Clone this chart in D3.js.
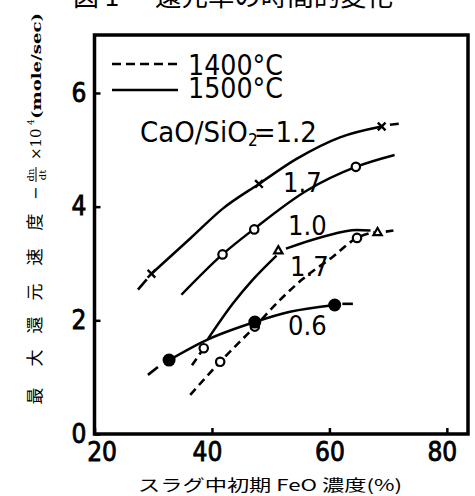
<!DOCTYPE html>
<html>
<head>
<meta charset="utf-8">
<script src="https://cdn.jsdelivr.net/npm/d3@7"></script>
<style>
  body { margin: 0; background: #fff; }
  svg { display: block; }
  text { fill: #000; }
  .num { font-family: "DejaVu Sans Condensed", "DejaVu Sans", sans-serif; font-stretch: condensed; }
  .jp { font-family: "Noto Sans CJK JP", sans-serif; }
</style>
</head>
<body>
<div id="chart"></div>
<script>
// tick labels
var xTicks = [20, 40, 60, 80];
var yTicks = [0, 2, 4, 6];

var temps = ["1400°C", "1500°C"];
var ratioLabels = ["1.2", "1.7", "1.0", "1.7", "0.6"];

// markers  [FeO %, rate]
var pts12 = [[29.7, 2.82], [48.0, 4.40], [68.9, 5.41]];           // x, 1500
var pts17 = [[41.8, 3.16], [47.2, 3.60], [64.5, 4.70]];           // o, 1500
var pts10 = [[51.3, 3.22], [68.2, 3.54]];                         // triangle
var pts06 = [[32.7, 1.30], [47.3, 1.97], [60.9, 2.27]];           // filled, 1500
var pts17b = [[41.4, 1.27], [47.3, 1.89], [64.7, 3.45], [38.6, 1.51]]; // o, 1400

// hand drawn curves
var curve12 = [[29.7, 2.82], [36.3, 3.44], [41.9, 3.97], [48.0, 4.40], [54.4, 4.84], [61.8, 5.22], [68.9, 5.41]];
var curve17 = [[34.8, 2.45], [41.8, 3.16], [47.2, 3.61], [56.1, 4.28], [64.5, 4.70], [71.1, 4.91]];
var curve10a = [[39.3, 1.67], [43.6, 2.30], [47.0, 2.72], [51.0, 3.14]];
var curve10b = [[52.6, 3.26], [58.9, 3.47], [64.7, 3.59], [67.0, 3.58]];
var curve06 = [[32.7, 1.30], [38.8, 1.64], [47.3, 1.97], [53.3, 2.15], [60.9, 2.27]];
var curve17b = [[36.3, 0.69], [41.4, 1.27], [47.3, 1.89], [51.5, 2.35], [55.5, 2.73], [60.6, 3.12], [64.7, 3.45], [67.6, 3.55]];
var curveShort = [[36.6, 1.21], [38.6, 1.51]];

// little dash tails beyond the end markers
var tails = [
  [[27.4, 2.54], [28.9, 2.72]],
  [[70.3, 5.44], [71.8, 5.46]],
  [[29.1, 1.04], [30.8, 1.18]],
  [[62.2, 2.29], [64.0, 2.29]],
  [[69.6, 3.56], [70.9, 3.58]]
];

var W = 475, H = 496;
var svg = d3.select("#chart").append("svg").attr("width", W).attr("height", H);

var x = d3.scaleLinear().domain([20, 83.6]).range([94.5, 468]);
var y = d3.scaleLinear().domain([0, 7.02]).range([434, 35]);

var line = d3.line()
  .x(function(d) { return x(d[0]); })
  .y(function(d) { return y(d[1]); })
  .curve(d3.curveMonotoneX);

// title, cut off at the top of the scan
svg.append("text").attr("class", "jp")
  .attr("x", 73).attr("y", 6).attr("font-size", 26)
  .text("図 1");
svg.append("text").attr("class", "jp")
  .attr("x", 155).attr("y", 6).attr("font-size", 26)
  .attr("textLength", 238).attr("lengthAdjust", "spacingAndGlyphs")
  .text("還元率の時間的変化");

// axes
var yAxis = d3.axisLeft(y).tickValues(yTicks).tickSizeInner(-6).tickSizeOuter(0).tickPadding(8)
  .tickFormat(d3.format("d"));
var xAxis = d3.axisBottom(x).tickValues(xTicks).tickSizeInner(-6).tickSizeOuter(0).tickPadding(9)
  .tickFormat(d3.format("d"));

var gy = svg.append("g").attr("transform", "translate(" + x(20) + ",0)").call(yAxis);
var gx = svg.append("g").attr("transform", "translate(0," + y(0) + ")").call(xAxis);
[gx, gy].forEach(function(g) {
  g.select(".domain").remove();
  g.selectAll("line").attr("stroke", "#000").attr("stroke-width", 2.5);
  g.selectAll("text").attr("class", "num").attr("font-size", 26)
    .attr("fill", "#000").attr("stroke", "#000").attr("stroke-width", 0.8);
});
gx.selectAll(".tick text").attr("dx", function(d) { return d == 20 ? 7 : (d == 40 || d == 80 ? -5 : 0); });

// frame
svg.append("rect")
  .attr("x", x(20)).attr("y", y(7.02))
  .attr("width", x(83.6) - x(20)).attr("height", y(0) - y(7.02))
  .attr("fill", "none").attr("stroke", "#000").attr("stroke-width", 3.5);

// curves
var solid = [curve12, curve17, curve10a, curve10b, curve06];
svg.selectAll(".solid").data(solid).enter().append("path")
  .attr("class", "solid").attr("d", line)
  .attr("fill", "none").attr("stroke", "#000").attr("stroke-width", 2.5);

var dashed = [curve17b, curveShort];
svg.selectAll(".dashed").data(dashed).enter().append("path")
  .attr("class", "dashed").attr("d", line)
  .attr("fill", "none").attr("stroke", "#000").attr("stroke-width", 2.6)
  .attr("stroke-dasharray", "8,5");

svg.selectAll(".tail").data(tails).enter().append("path")
  .attr("class", "tail").attr("d", line)
  .attr("fill", "none").attr("stroke", "#000").attr("stroke-width", 2.6);

// markers
var cross = d3.symbol().type(d3.symbolTimes || d3.symbolX).size(40);
svg.selectAll(".mx").data(pts12).enter().append("path")
  .attr("class", "mx").attr("d", cross)
  .attr("transform", function(d) { return "translate(" + x(d[0]) + "," + y(d[1]) + ")"; })
  .attr("fill", "none").attr("stroke", "#000").attr("stroke-width", 2.4);

svg.selectAll(".mo").data(pts17.concat(pts17b)).enter().append("circle")
  .attr("class", "mo")
  .attr("cx", function(d) { return x(d[0]); }).attr("cy", function(d) { return y(d[1]); })
  .attr("r", 4.2).attr("fill", "#fff").attr("stroke", "#000").attr("stroke-width", 2.2);

var tri = d3.symbol().type(d3.symbolTriangle2 || d3.symbolTriangle).size(50);
svg.selectAll(".mt").data(pts10).enter().append("path")
  .attr("class", "mt").attr("d", tri)
  .attr("transform", function(d) { return "translate(" + x(d[0]) + "," + y(d[1]) + ")"; })
  .attr("fill", "#fff").attr("stroke", "#000").attr("stroke-width", 2.2);

svg.selectAll(".mf").data(pts06).enter().append("circle")
  .attr("class", "mf")
  .attr("cx", function(d) { return x(d[0]); }).attr("cy", function(d) { return y(d[1]); })
  .attr("r", 6.5).attr("fill", "#000");

// legend
var legend = svg.append("g");
temps.forEach(function(t, i) {
  var ly = i == 0 ? 64 : 90;
  legend.append("line")
    .attr("x1", 112).attr("x2", 178).attr("y1", ly).attr("y2", ly)
    .attr("stroke", "#000").attr("stroke-width", 2.6)
    .attr("stroke-dasharray", i == 0 ? "9,5" : null);
  legend.append("text").attr("class", "num")
    .attr("x", 188).attr("y", i == 0 ? 75 : 98).attr("font-size", 28)
    .attr("textLength", 95).attr("lengthAdjust", "spacingAndGlyphs")
    .text(t);
});

// ratio labels
var ratio = svg.append("text").attr("class", "num")
  .attr("x", 140).attr("y", 142).attr("font-size", 29);
ratio.append("tspan").text("CaO/SiO");
ratio.append("tspan").attr("font-size", 17).attr("dy", 4).attr("dx", 0).text("2");
ratio.append("tspan").attr("dy", -4).attr("dx", -4).text("=" + ratioLabels[0]);

var labelPos = [[283, 192], [288, 235], [290, 276], [288, 335]];
svg.selectAll(".rl").data(labelPos).enter().append("text")
  .attr("class", "rl num")
  .attr("x", function(d) { return d[0]; }).attr("y", function(d) { return d[1]; })
  .attr("font-size", 27)
  .text(function(d, i) { return ratioLabels[i + 1]; });

// y axis title (rotated)
var yt = svg.append("g").attr("transform", "translate(35,410) rotate(-90)");
var jpChars = ["最", "大", "還", "元", "速", "度"];
var jpPos = [14, 52, 85, 118, 153, 188];
jpChars.forEach(function(c, i) {
  yt.append("text").attr("class", "jp")
    .attr("x", jpPos[i]).attr("y", 6).attr("font-size", 17)
    .attr("text-anchor", "middle").attr("fill", "#000").text(c);
});
yt.append("text").attr("x", 210).attr("y", 6).attr("font-size", 16)
  .attr("font-family", "DejaVu Serif").text("−");
yt.append("text").attr("x", 235).attr("y", -1).attr("font-size", 10)
  .attr("font-family", "DejaVu Serif").attr("text-anchor", "middle").text("dn");
yt.append("line").attr("x1", 228).attr("x2", 243).attr("y1", 1).attr("y2", 1)
  .attr("stroke", "#000").attr("stroke-width", 1);
yt.append("text").attr("x", 235).attr("y", 11).attr("font-size", 10)
  .attr("font-family", "DejaVu Serif").attr("text-anchor", "middle").text("dt");
yt.append("text").attr("x", 250).attr("y", 6).attr("font-size", 15)
  .attr("font-family", "DejaVu Serif").text("×10");
yt.append("text").attr("x", 285).attr("y", -1).attr("font-size", 9)
  .attr("font-family", "DejaVu Serif").text("4");
yt.append("text").attr("x", 291).attr("y", 6).attr("font-size", 13)
  .attr("font-family", "DejaVu Serif").attr("font-weight", "bold")
  .attr("textLength", 106).attr("lengthAdjust", "spacingAndGlyphs")
  .text("(mole/sec)");

// x axis title
svg.append("text").attr("class", "jp")
  .attr("x", 138).attr("y", 491).attr("font-size", 16)
  .attr("textLength", 264).attr("lengthAdjust", "spacingAndGlyphs")
  .text("スラグ中初期 FeO 濃度(%)");
</script>
</body>
</html>
